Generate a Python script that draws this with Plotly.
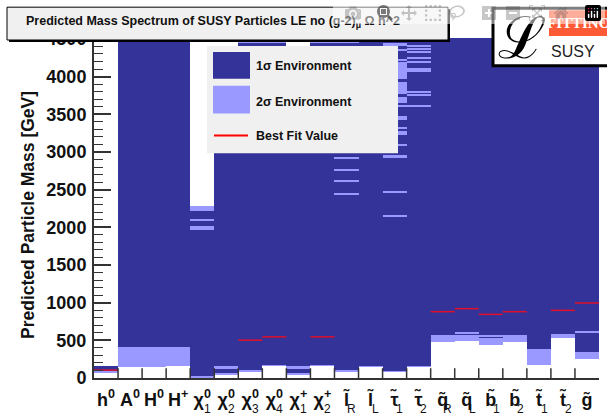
import plotly.graph_objects as go

DARK = "#333399"
LIGHT = "#9999ff"
RED = "#e0102a"
INK = "#111111"

# ---------- data (GeV) ----------
tick_labels = ["h<sup>0</sup>", "A<sup>0</sup>", "H<sup>0</sup>", "H<sup>+</sup>",
               "χ<sup>0</sup>", "χ<sup>0</sup>", "χ<sup>0</sup>", "χ<sup>0</sup>",
               "χ<sup>+</sup>", "χ<sup>+</sup>",
               "l\u0303", "l\u0303", "τ\u0303", "τ\u0303",
               "q\u0303", "q\u0303", "b\u0303", "b\u0303", "t\u0303", "t\u0303", "g\u0303"]
tick_subs = ["", "", "", "", "1", "2", "3", "4", "1", "2",
             "R", "L", "1", "2", "R", "L", "1", "2", "1", "2", ""]

white_top = [70, 140, 140, 154, 0, 35, 79, 154, 35, 154, 79, 140, 75, 140, 475, 493, 440, 475, 176, 537, 250]
light_top = [80, 405, 405, 405, 22, 62, 105, 163, 62, 163, 100, 158, 92, 158, 572, 572, 528, 572, 383, 590, 343]
upper_white_from = [154, 4512, 4512, 4512, 2278, 4000, 4512, 4512, 3500, 4512, 4512,
                    4512, 4512, 4512, 4512, 4512, 4512, 4512, 4512, 4512, 4512]

best_bins = [0, 6, 7, 9, 14, 15, 16, 17, 19, 20]
best_vals = [105, 502, 546, 546, 880, 920, 845, 880, 898, 995]

band_bins = [4, 4, 4, 5, 8, 15, 16, 20,
             6, 7, 9, 10,
             10, 10, 10, 10,
             12, 12, 12, 12, 12, 12, 12, 12, 12, 12, 12, 12, 12, 12,
             13, 13, 13, 13, 13, 13, 13, 13, 13, 13]
band_lo = [2216, 2090, 1965, 132, 132, 590, 545, 606,
           4440, 4440, 4440, 4440,
           2910, 2750, 2605, 2435,
           4406, 4340, 4208, 3971, 3773, 3654, 3602, 3430, 3311, 3219, 3087, 2916, 2467, 2137,
           4390, 4360, 4315, 4240, 4185, 4090, 4070, 3793, 3753, 3600]
band_hi = [2278, 2105, 2018, 158, 154, 608, 572, 622,
           4480, 4480, 4480, 4480,
           2924, 2764, 2619, 2449,
           4446, 4360, 4222, 4195, 3931, 3734, 3628, 3483, 3325, 3272, 3100, 2955, 2480, 2150,
           4420, 4375, 4330, 4265, 4198, 4120, 4083, 3806, 3766, 3613]

y_ticks = [0, 500, 1000, 1500, 2000, 2500, 3000, 3500, 4000, 4500]
y_max = 4512
n_bins = len(tick_labels)
bins = list(range(n_bins))

# ---------- page geometry ----------
W, H = 607, 418
L, R, T, B = 94, 599, 38, 380
def px(x): return (x - L) / (R - L)
def py(y): return (B - y) / (B - T)

fig = go.Figure()

def bars(xs, lo, hi, color, name):
    fig.add_trace(go.Bar(x=xs, base=lo, y=[h - l for l, h in zip(lo, hi)], width=1,
                         marker=dict(color=color, line=dict(width=0)), name=name,
                         showlegend=False, hoverinfo="skip"))

bars(bins, [0] * n_bins, [y_max] * n_bins, DARK, "1s")
bars(bins, white_top, light_top, LIGHT, "2s")
bars(bins, [0] * n_bins, white_top, "white", "below")
bars(bins, upper_white_from, [y_max] * n_bins, "white", "above")
bars(band_bins, band_lo, band_hi, LIGHT, "bands")

seg_x, seg_y = [], []
for b, v in zip(best_bins, best_vals):
    seg_x += [b - 0.5, b + 0.5, None]
    seg_y += [v, v, None]
fig.add_trace(go.Scatter(x=seg_x, y=seg_y, mode="lines", line=dict(color=RED, width=1.5),
                         showlegend=False, hoverinfo="skip"))

shapes = []
def rect(x0, y0, x1, y1, fill, line=None, lw=0):
    shapes.append(dict(type="rect", xref="paper", yref="paper", layer="above",
                       x0=px(x0), x1=px(x1), y0=py(y1), y1=py(y0), fillcolor=fill,
                       line=dict(color=line or fill, width=lw)))

annos = []
def text(x, y, s, size, color=INK, anchor="left", family="Liberation Sans", angle=0):
    annos.append(dict(xref="paper", yref="paper", x=px(x), y=py(y), text=s, showarrow=False,
                      xanchor=anchor, yanchor="middle", textangle=angle,
                      font=dict(family=family, size=size, color=color)))

# title box
rect(9, 9, 450, 42, "black")
rect(7, 7, 448, 40, "#f0f0f0", "black", 1)
text(24, 22, "<b>Predicted Mass Spectrum of SUSY Particles LE no (g-2)<sub>μ</sub> Ω h^2</b>", 12.5)

# legend box
rect(207, 46, 398, 154, "#f0f0f0")
rect(213, 52, 250, 79, DARK)
rect(213, 86, 250, 114, LIGHT)
shapes.append(dict(type="line", xref="paper", yref="paper", layer="above",
                   x0=px(214), x1=px(248), y0=py(136), y1=py(136),
                   line=dict(color="#ff0000", width=2)))
text(254, 66, "<b>1σ Environment</b>", 12.5)
text(254, 102, "<b>2σ Environment</b>", 12.5)
text(254, 137, "<b>Best Fit Value</b>", 12.5)

# logo
rect(493, 8, 612, 66, "white", "black", 3)
rect(549, 10, 612, 36, "#ff5a36")
text(578, 23, "<b>FITTINO</b>", 15, color="white", anchor="center", family="Liberation Sans Narrow")
text(573, 52, "SUSY", 16, color="#222222", anchor="center")
text(522, 38, "ℒ", 58, color="black", anchor="center", family="DejaVu Serif")

# y title
text(28, 216, "<b>Predicted Particle Mass [GeV]</b>", 17.5, anchor="center", angle=-90)

# lower-index parts of the stacked x labels
for b, s in zip(bins, tick_subs):
    if s:
        annos.append(dict(xref="x", yref="paper", x=b + 0.22, y=py(411), text=s, showarrow=False,
                          xanchor="center", yanchor="middle",
                          font=dict(family="Liberation Sans", size=12, color=INK)))

fig.update_layout(
    width=W, height=H, barmode="overlay", bargap=0, showlegend=False,
    margin=dict(l=L, r=W - R, t=T, b=H - B, pad=0),
    paper_bgcolor="white", plot_bgcolor="white",
    shapes=shapes, annotations=annos,
    xaxis=dict(range=[-0.5, n_bins - 0.5], tickmode="array", tickvals=bins, ticktext=tick_labels,
               ticks="", showgrid=False, zeroline=False, showline=True, linecolor="#333333",
               linewidth=2, tickangle=0, ticklabelstandoff=4,
               tickfont=dict(family="Liberation Sans", size=18, color=INK, weight="bold")),
    yaxis=dict(range=[0, y_max], tickmode="array", tickvals=y_ticks, ticks="inside", ticklen=17,
               tickwidth=1.5, tickcolor="#333333", showgrid=False, zeroline=False, showline=True,
               linecolor="#333333", linewidth=2, ticklabelstandoff=2,
               minor=dict(dtick=100, ticks="inside", ticklen=9, tickwidth=1, tickcolor="#333333"),
               tickfont=dict(family="Liberation Sans", size=18, color=INK, weight="bold")),
)

# bin-edge ticks along the bottom
edges = [i + 0.5 for i in range(n_bins - 1)]
tick_x, tick_y = [], []
for e in edges:
    tick_x += [e, e, None]
    tick_y += [0, 130, None]
fig.add_trace(go.Scatter(x=tick_x, y=tick_y, mode="lines", line=dict(color="#333333", width=1.5),
                         showlegend=False, hoverinfo="skip"))

fig.write_html("out.html", post_script="document.body.style.margin='0';document.documentElement.style.overflow='hidden';")
